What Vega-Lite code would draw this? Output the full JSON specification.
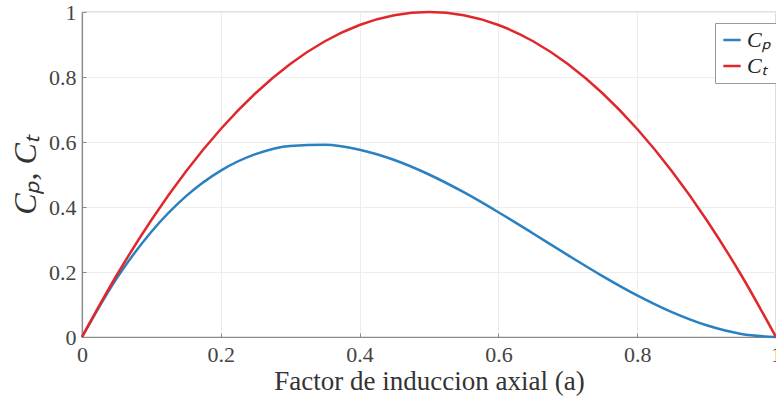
{
  "$schema": "https://vega.github.io/schema/vega-lite/v6.json",
  "width": 694,
  "height": 325,
  "autosize": "none",
  "padding": {"left": 82, "top": 12, "right": 0, "bottom": 59},
  "background": "white",
  "config": {
    "view": {"stroke": "#8a8a8a", "strokeWidth": 1.2},
    "font": "Liberation Serif, serif",
    "axis": {"labelFont": "Liberation Serif, serif", "titleFont": "Liberation Serif, serif"},
    "legend": {"labelFont": "Liberation Serif, serif"}
  },
  "data": {
    "values": [
      {"a": 0, "C": 0, "s": "Cₚ"},
      {"a": 0.05, "C": 0.1805, "s": "Cₚ"},
      {"a": 0.1, "C": 0.324, "s": "Cₚ"},
      {"a": 0.15, "C": 0.4335, "s": "Cₚ"},
      {"a": 0.2, "C": 0.512, "s": "Cₚ"},
      {"a": 0.25, "C": 0.5625, "s": "Cₚ"},
      {"a": 0.3, "C": 0.588, "s": "Cₚ"},
      {"a": 0.35, "C": 0.5915, "s": "Cₚ"},
      {"a": 0.4, "C": 0.576, "s": "Cₚ"},
      {"a": 0.45, "C": 0.5445, "s": "Cₚ"},
      {"a": 0.5, "C": 0.5, "s": "Cₚ"},
      {"a": 0.55, "C": 0.4455, "s": "Cₚ"},
      {"a": 0.6, "C": 0.384, "s": "Cₚ"},
      {"a": 0.65, "C": 0.3185, "s": "Cₚ"},
      {"a": 0.7, "C": 0.252, "s": "Cₚ"},
      {"a": 0.75, "C": 0.1875, "s": "Cₚ"},
      {"a": 0.8, "C": 0.128, "s": "Cₚ"},
      {"a": 0.85, "C": 0.0765, "s": "Cₚ"},
      {"a": 0.9, "C": 0.036, "s": "Cₚ"},
      {"a": 0.95, "C": 0.0095, "s": "Cₚ"},
      {"a": 1, "C": 0, "s": "Cₚ"},
      {"a": 0, "C": 0, "s": "Cₜ"},
      {"a": 0.05, "C": 0.19, "s": "Cₜ"},
      {"a": 0.1, "C": 0.36, "s": "Cₜ"},
      {"a": 0.15, "C": 0.51, "s": "Cₜ"},
      {"a": 0.2, "C": 0.64, "s": "Cₜ"},
      {"a": 0.25, "C": 0.75, "s": "Cₜ"},
      {"a": 0.3, "C": 0.84, "s": "Cₜ"},
      {"a": 0.35, "C": 0.91, "s": "Cₜ"},
      {"a": 0.4, "C": 0.96, "s": "Cₜ"},
      {"a": 0.45, "C": 0.99, "s": "Cₜ"},
      {"a": 0.5, "C": 1.0, "s": "Cₜ"},
      {"a": 0.55, "C": 0.99, "s": "Cₜ"},
      {"a": 0.6, "C": 0.96, "s": "Cₜ"},
      {"a": 0.65, "C": 0.91, "s": "Cₜ"},
      {"a": 0.7, "C": 0.84, "s": "Cₜ"},
      {"a": 0.75, "C": 0.75, "s": "Cₜ"},
      {"a": 0.8, "C": 0.64, "s": "Cₜ"},
      {"a": 0.85, "C": 0.51, "s": "Cₜ"},
      {"a": 0.9, "C": 0.36, "s": "Cₜ"},
      {"a": 0.95, "C": 0.19, "s": "Cₜ"},
      {"a": 1, "C": 0, "s": "Cₜ"}
    ]
  },
  "mark": {"type": "line", "interpolate": "monotone", "strokeWidth": 2.5, "clip": false},
  "encoding": {
    "x": {
      "field": "a", "type": "quantitative",
      "scale": {"domain": [0, 1], "nice": false},
      "axis": {
        "title": "Factor de induccion axial (a)",
        "titleFontSize": 27, "titleFontWeight": "normal", "titleColor": "#333333", "titlePadding": 3,
        "values": [0, 0.2, 0.4, 0.6, 0.8, 1], "format": ".1~f",
        "labelFontSize": 22, "labelColor": "#444444", "labelPadding": 11,
        "labelFlush": false,
        "tickSize": -4, "tickColor": "#8a8a8a", "domainColor": "#8a8a8a", "domainWidth": 1.2,
        "grid": true, "gridColor": "#ededed", "gridWidth": 1
      }
    },
    "y": {
      "field": "C", "type": "quantitative",
      "scale": {"domain": [0, 1], "nice": false},
      "axis": {
        "title": "Cₚ,  Cₜ",
        "titleFontSize": 32, "titleFontWeight": "normal", "titleFontStyle": "italic", "titleColor": "#333333", "titlePadding": 6,
        "values": [0, 0.2, 0.4, 0.6, 0.8, 1], "format": ".1~f",
        "labelFontSize": 22, "labelColor": "#444444", "labelPadding": 10,
        "labelFlush": false,
        "tickSize": -4, "tickColor": "#8a8a8a", "domainColor": "#8a8a8a", "domainWidth": 1.2,
        "grid": true, "gridColor": "#ededed", "gridWidth": 1
      }
    },
    "color": {
      "field": "s", "type": "nominal",
      "scale": {"domain": ["Cₚ", "Cₜ"], "range": ["#2a80c0", "#e0272c"]},
      "legend": {
        "title": null,
        "orient": "none", "legendX": 633, "legendY": 11,
        "symbolType": "stroke", "symbolStrokeWidth": 2.5, "symbolSize": 300,
        "labelFontSize": 22, "labelFontStyle": "italic", "labelColor": "#222222",
        "strokeColor": "#9a9a9a", "fillColor": "white", "padding": 6, "rowPadding": 4
      }
    }
  }
}
